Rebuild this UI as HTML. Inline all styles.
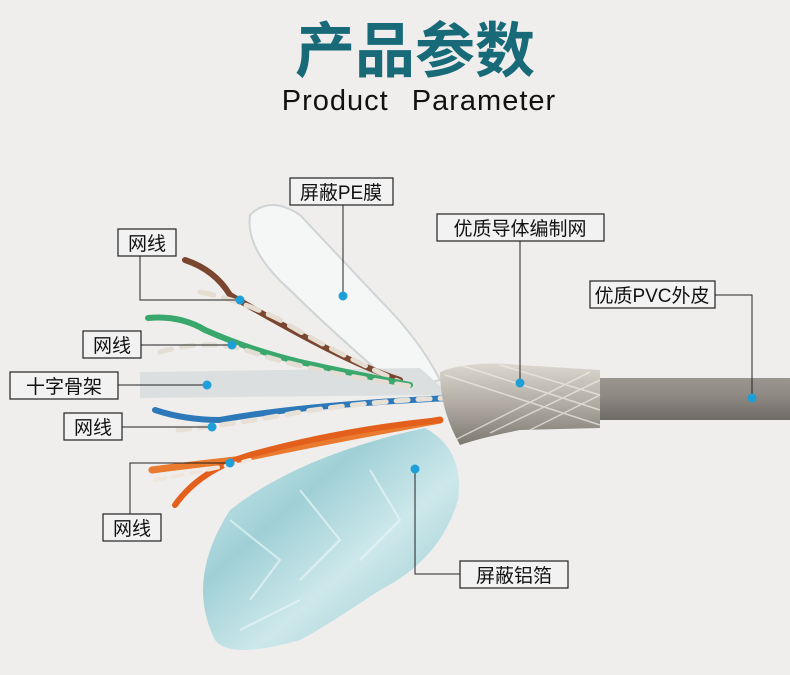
<!DOCTYPE html>
<html><head><meta charset="utf-8"><style>
html,body{margin:0;padding:0;width:790px;height:675px;overflow:hidden;background:#efeeed}
svg{display:block}
text{font-family:"Liberation Sans","Noto Sans CJK SC",sans-serif}
</style></head><body>
<svg width="790" height="675" viewBox="0 0 790 675" xmlns="http://www.w3.org/2000/svg">
<defs>
<linearGradient id="pvc" x1="0" y1="0" x2="0" y2="1"><stop offset="0" stop-color="#9a958e"/><stop offset=".4" stop-color="#8f8a84"/><stop offset="1" stop-color="#6e6a65"/></linearGradient>
<linearGradient id="foil" x1="0" y1="0" x2="1" y2="1"><stop offset="0" stop-color="#d6eef0"/><stop offset=".35" stop-color="#9fd0d6"/><stop offset=".6" stop-color="#cde8eb"/><stop offset="1" stop-color="#8fc4cc"/></linearGradient>
<linearGradient id="braid" x1="0" y1="0" x2="0" y2="1"><stop offset="0" stop-color="#dcd8d0"/><stop offset=".5" stop-color="#b0aba3"/><stop offset="1" stop-color="#7d7870"/></linearGradient>
</defs>
<rect width="790" height="675" fill="#efeeed"/>
<text x="415" y="72" text-anchor="middle" font-size="60" font-weight="bold" fill="#186a79">产品参数</text>
<text x="419" y="110" text-anchor="middle" font-size="29" fill="#111" word-spacing="14" letter-spacing="1">Product  Parameter</text>
<!-- PE film -->
<path d="M250,215 Q270,195 300,215 L380,300 Q420,340 440,380 L400,390 Q330,330 290,290 Q245,250 250,215Z" fill="#f6f7f7" stroke="#cfd3d4" stroke-width="2" opacity=".95"/>
<!-- skeleton -->
<path d="M140,372 L420,368 L450,395 L140,398 Z" fill="#dcdfe0"/>
<!-- PVC -->
<rect x="590" y="378" width="200" height="42" fill="url(#pvc)"/>
<!-- foil -->
<path d="M425,428 Q465,450 458,500 Q440,560 380,590 Q320,630 300,640 Q230,660 215,640 Q185,580 230,510 Q300,455 425,428Z" fill="url(#foil)"/>
<path d="M230,520 L280,560 L250,600 M300,490 L340,540 L300,580 M370,470 L400,520 L360,560 M240,630 L300,600" stroke="#eaf6f7" stroke-width="2" fill="none" opacity=".7"/>
<!-- wires -->
<g fill="none" stroke-linecap="round">
<path d="M185,260 Q215,270 230,295 Q290,330 330,350 Q370,370 400,380" stroke="#7a4630" stroke-width="6"/>
<path d="M200,292 Q240,300 280,320 Q330,350 400,382" stroke="#e6ddd2" stroke-width="5" stroke-dasharray="14 10"/>
<path d="M148,318 Q180,315 205,330 Q250,350 300,362 Q360,375 410,385" stroke="#3aa86c" stroke-width="6"/>
<path d="M160,352 Q200,340 240,348 Q300,370 410,386" stroke="#e3ddd3" stroke-width="5" stroke-dasharray="12 10"/>
<path d="M155,410 Q185,420 220,420 Q300,405 450,398" stroke="#2d78b8" stroke-width="6"/>
<path d="M178,430 Q230,425 300,412 Q380,400 450,398" stroke="#e6e0d6" stroke-width="5" stroke-dasharray="12 10"/>
<path d="M152,470 Q190,465 235,460 Q330,440 440,420" stroke="#ea7a2e" stroke-width="7"/>
<path d="M175,505 Q200,470 250,455 Q340,430 440,420" stroke="#e35f1c" stroke-width="6"/>
<path d="M155,480 Q210,470 250,460" stroke="#efe6dc" stroke-width="4" stroke-dasharray="10 8"/>
</g>
<!-- braid -->
<path d="M440,372 Q470,360 520,365 L600,370 L600,428 L520,430 Q480,438 460,445 Q440,410 440,372Z" fill="url(#braid)"/>
<path d="M445,375 L600,425 M460,365 L600,410 M500,365 L600,395 M455,440 L590,372 M490,433 L600,380 M530,430 L600,395" stroke="#efede8" stroke-width="1.5" opacity=".7"/>
<!-- leaders -->
<g stroke="#222" stroke-width="1" fill="none">
<path d="M343,205 V296"/><path d="M520,241 V383"/><path d="M715,295 H752 V398"/>
<path d="M140,256 V300 H240"/><path d="M141,345 H232"/><path d="M118,385 H207"/>
<path d="M122,427 H212"/><path d="M130,514 V463 H230"/><path d="M460,574 H415 V469"/>
</g>
<g fill="#1f9fd8">
<circle cx="343" cy="296" r="4.5"/><circle cx="520" cy="383" r="4.5"/><circle cx="752" cy="398" r="4.5"/>
<circle cx="240" cy="300" r="4.5"/><circle cx="232" cy="345" r="4.5"/><circle cx="207" cy="385" r="4.5"/>
<circle cx="212" cy="427" r="4.5"/><circle cx="230" cy="463" r="4.5"/><circle cx="415" cy="469" r="4.5"/>
</g>
<g stroke="#222" stroke-width="1.2" fill="#f2f2f2">
<rect x="290" y="178" width="103" height="27"/><rect x="437" y="214" width="167" height="27"/>
<rect x="590" y="281" width="125" height="27"/><rect x="118" y="229" width="58" height="27"/>
<rect x="83" y="331" width="58" height="27"/><rect x="10" y="372" width="108" height="27"/>
<rect x="64" y="413" width="58" height="27"/><rect x="103" y="514" width="58" height="27"/>
<rect x="460" y="561" width="108" height="27"/>
</g>
<g font-size="19" fill="#111" text-anchor="middle">
<text x="341" y="199">屏蔽PE膜</text><text x="520" y="235">优质导体编制网</text>
<text x="652" y="302">优质PVC外皮</text><text x="147" y="250">网线</text>
<text x="112" y="352">网线</text><text x="64" y="393">十字骨架</text>
<text x="93" y="434">网线</text><text x="132" y="535">网线</text>
<text x="514" y="582">屏蔽铝箔</text>
</g>
</svg>
</body></html>
